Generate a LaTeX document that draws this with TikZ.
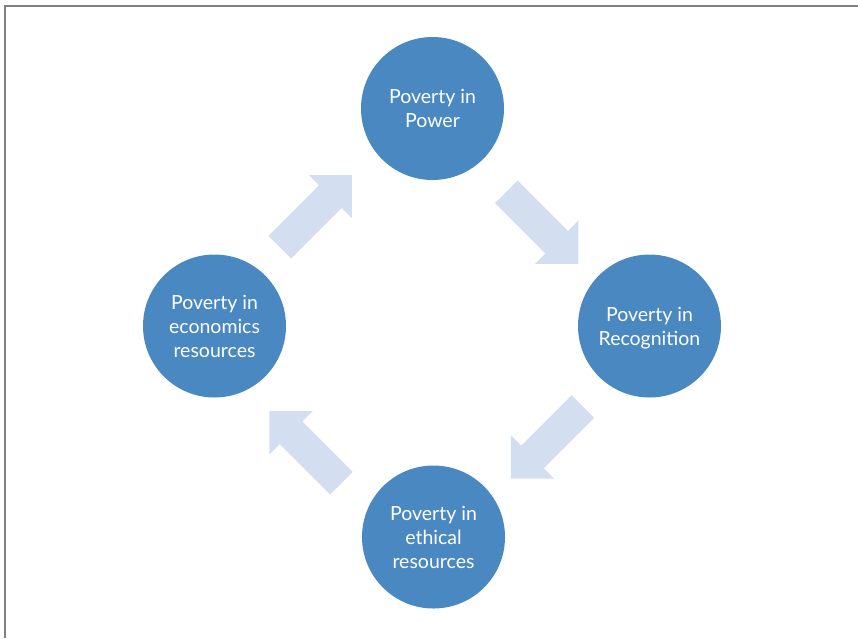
\documentclass[tikz,border=0pt]{standalone}
\usepackage{fontspec}
\setmainfont{Lato}
\begin{document}
\begin{tikzpicture}[x=1pt,y=-1pt,
  framepen/.style={draw=framegray,line width=2pt},
  stage/.style={circle,fill=stageblue,minimum size=143pt,inner sep=0pt,
    text=white,align=center,text depth=0pt,
    font=\fontsize{19.5}{24}\selectfont},
  blockarrow/.pic={\fill[arrowtint] (0,-16) -- (71.3,-16) -- (71.3,-30.6)
    -- (101.9,0) -- (71.3,30.6) -- (71.3,16) -- (0,16) -- cycle;}]
\definecolor{stageblue}{HTML}{4A88C2}
\definecolor{arrowtint}{HTML}{D4DEF1}
\definecolor{framegray}{HTML}{808080}
\useasboundingbox (0,0) rectangle (858,638);

% page frame (top and left edges)
\draw[framepen] (858,5.5) -- (4.5,5.5) -- (4.5,638);

% the four stages of the cycle
\node[stage] (power) at (432.5,108.5) {Poverty in\\Power};
\node[stage] (recog) at (649.5,326) {Poverty in\\Recognition};
\node[stage] (ethic) at (433.5,537) {Poverty in\\ethical\\resources};
\node[stage] (econ)  at (214.5,326) {Poverty in\\economics\\resources};

% block arrows running clockwise between the stages
\pic[rotate=45]   at (279.9,247.2) {blockarrow};
\pic[rotate=-45]  at (506.3,191.7) {blockarrow};
\pic[rotate=-135] at (582.9,406.5) {blockarrow};
\pic[rotate=135]  at (341.4,483.2) {blockarrow};
\end{tikzpicture}
\end{document}
